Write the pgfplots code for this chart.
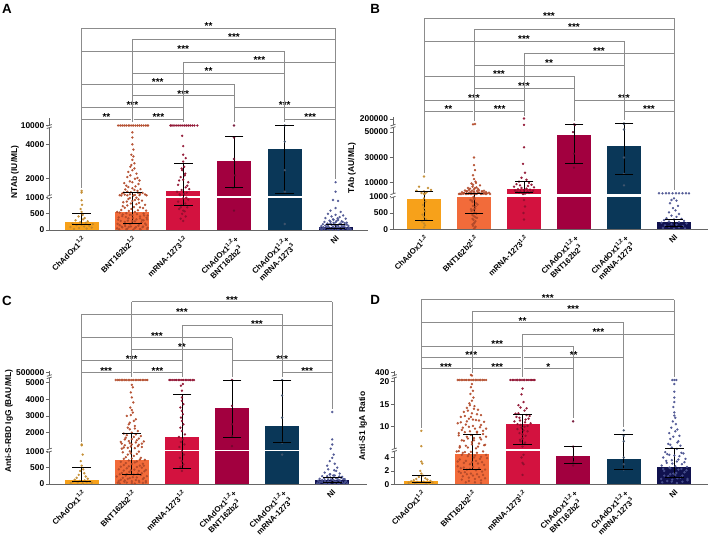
\documentclass[border=0pt]{standalone}
\usepackage{fontspec}
\setmainfont{Liberation Sans}
\usepackage{pgfplots}
\pgfplotsset{compat=1.18}
\definecolor{cA}{HTML}{F7A11A}
\definecolor{cB}{HTML}{F26B3A}
\definecolor{cC}{HTML}{D3123F}
\definecolor{cD}{HTML}{A2003F}
\definecolor{cE}{HTML}{0A3758}
\definecolor{cF}{HTML}{10124F}
\definecolor{pA}{HTML}{C28A2C}
\definecolor{pB}{HTML}{B24A2A}
\definecolor{pC}{HTML}{8E0F2E}
\definecolor{pD}{HTML}{6E0A2E}
\definecolor{pE}{HTML}{44566E}
\definecolor{pF}{HTML}{4A5290}
\definecolor{axcol}{HTML}{666666}
\newcommand{\tfont}{\bfseries\fontsize{6.3}{8}\selectfont}
\newcommand{\xfont}{\bfseries\fontsize{5.9}{7.2}\selectfont}
\newcommand{\sfont}{\bfseries\fontsize{7.5}{8}\selectfont}
\newcommand{\trafo}[1]{\begingroup\pgfkeys{/pgf/fpu=true,/pgf/fpu/output format=fixed}\pgfmathparse{#1}\global\let\mytrafotmp\pgfmathresult\endgroup\let\pgfmathresult\mytrafotmp}
\tikzset{brcol/.style={draw=black!45, line width=0.6pt},
  pts/.style={only marks, mark=*, mark size=0.7pt, color=#1, mark options={fill opacity=0.85, draw opacity=0.85}},
  iqr/.style={black, line width=0.6pt, mark=-, mark size=7pt}}
\pgfplotsset{panel/.style={
  scale only axis, anchor=south west, ymin=0, clip=false,
  axis x line=bottom, axis y line=left,
  axis line style={-, draw=axcol, line width=0.75pt},
  xtick={0,1,2,3,4,5},
  xticklabels={{ChAdOx1\textsuperscript{1,2}},{BNT162b2\textsuperscript{1,2}},{mRNA-1273\textsuperscript{1,2}},{ChAdOx1\textsuperscript{1,2}+\\BNT162b2\textsuperscript{3}},{ChAdOx1\textsuperscript{1,2}+\\mRNA-1273\textsuperscript{3}},{NI}},
  xtick style={draw=none},
  ytick style={draw=axcol, line width=0.6pt},
  tick align=outside, major tick length=2.6pt,
  xticklabel style={rotate=45, anchor=north east, align=center, font=\xfont, inner sep=0pt},
  xticklabel shift=1pt,
  yticklabel style={font=\tfont, inner sep=1pt},
}}
\newcommand{\brk}[4]{\draw[brcol] (#1,#3) -- (#2,#3); \node[anchor=base, inner sep=0pt, font=\sfont] at ({(#1+#2)/2},#3+1.5) {#4};}
\newcommand{\drop}[3]{\draw[brcol] (#1,#2) -- (#1,#3);}
\newcommand{\ybrk}[3]{\fill[white] (#1-1.6,#2+0.3) rectangle (#1+1.6,#3-0.3);
  \draw[axcol, line width=0.6pt] (#1-2.5,#2+1.3) -- (#1+2.5,#2-0.3);
  \draw[axcol, line width=0.6pt] (#1-2.5,#3+0.3) -- (#1+2.5,#3-1.3);}
\begin{document}
\begin{tikzpicture}[x=0.75pt,y=-0.75pt]
\path[use as bounding box] (0,0) rectangle (709,536);
% ================= A =================
\begin{axis}[panel, at={(36.975pt,-172.5pt)}, width=239.0pt, height=84pt,
  xmin=-0.636, xmax=5.638, ymax=20000,
  y coord trafo/.code={\trafo{#1<1000.5 ? #1*0.0323 : (#1<5000.5 ? 34+(#1-1000)*0.0172 : 104.5+(#1-10000)*0.00075)}},
  ytick={0,500,1000,2000,4000,10000}, yticklabels={0,500,1000,2000,4000,10000}]
\addplot[ybar, bar width=25.5pt, bar shift=0pt, fill=cA, draw=none] coordinates {(0,260)};
\addplot[ybar, bar width=25.5pt, bar shift=0pt, fill=cB, draw=none] coordinates {(1,563)};
\addplot[ybar, bar width=25.5pt, bar shift=0pt, fill=cC, draw=none] coordinates {(2,1294)};
\addplot[ybar, bar width=25.5pt, bar shift=0pt, fill=cD, draw=none] coordinates {(3,3040)};
\addplot[ybar, bar width=25.5pt, bar shift=0pt, fill=cE, draw=none] coordinates {(4,3706)};
\addplot[ybar, bar width=25.5pt, bar shift=0pt, fill=cF, draw=none] coordinates {(5,94)};
\fill[white] (rel axis cs:0,0.2884) rectangle (rel axis cs:1,0.3036);
\addplot[pts=pA] coordinates {(-0.15,30) (0.10,45) (-0.05,60) (0.20,75) (-0.22,90) (0.05,110) (0.15,130) (-0.10,150) (0.00,165) (0.22,180) (-0.18,200) (0.08,220) (-0.03,240) (0.12,270) (-0.12,300) (0.03,330) (0.06,370) (-0.06,420) (0.02,470) (0.00,560) (-0.02,650) (0.01,780) (0.00,920) (0.00,1200) (0.00,1300)};
\addplot[pts=pB] coordinates {(0.72,10000) (0.80,10000) (0.88,10000) (0.95,10000) (1.02,10000) (1.10,10000) (1.18,10000) (1.26,10000) (1.31,10000) (0.76,10000) (0.84,10000) (0.92,10000) (0.99,10000) (1.06,10000) (1.14,10000) (1.22,10000) (1.29,10000)
 (0.70,50) (0.80,80) (0.90,40) (1.05,60) (1.20,90) (1.30,70) (0.75,150) (0.95,180) (1.12,130) (1.25,200) (0.85,250) (1.00,280) (1.18,240) (0.72,320) (0.92,360) (1.08,330) (1.28,380) (0.80,430) (1.00,460) (1.15,420) (0.88,520) (1.05,560) (1.22,510) (0.78,620) (0.98,650) (1.15,700) (0.90,760) (1.08,800) (1.25,780) (0.82,860) (1.00,900) (1.12,950) (0.95,990) (0.86,120) (1.15,30) (0.97,110) (1.22,300) (0.70,560) (1.30,450)
 (0.74,20) (0.88,25) (1.02,15) (1.16,22) (1.29,35) (0.79,100) (0.93,95) (1.07,90) (1.21,105) (0.71,190) (0.85,170) (0.99,210) (1.13,185) (1.27,160) (0.77,280) (0.91,290) (1.05,270) (1.19,310) (0.73,390) (0.87,400) (1.01,370) (1.15,360) (1.29,330) (0.81,480) (0.95,470) (1.09,490) (1.23,450) (0.75,540) (0.93,590) (1.11,610) (1.27,600) (0.85,690) (1.03,710) (1.21,680) (0.81,740) (0.97,820) (1.13,840) (0.89,880) (1.05,930) (1.19,910) (0.92,960) (1.08,1000)
 (0.75,1050) (0.85,1080) (0.95,1100) (1.05,1060) (1.15,1120) (1.25,1090) (0.80,1150) (1.20,1180) (0.90,1250) (1.10,1300) (1.00,1450) (0.88,1600) (1.12,1700) (0.95,1850) (1.05,2000) (0.90,2100) (1.08,2300) (1.00,2500) (0.96,2700) (1.04,2900) (1.00,3100) (0.98,3400) (1.02,3700) (1.00,4000) (1.00,4400) (1.00,4700)
 (0.78,1030) (0.90,1040) (1.02,1030) (1.14,1050) (1.28,1040) (0.83,1200) (0.97,1220) (1.11,1190) (0.86,1380) (1.04,1350) (1.16,1400) (0.92,1520) (1.06,1560) (0.84,1750) (1.00,1800) (1.14,1900) (0.96,2200) (1.10,2050) (0.92,2400) (1.04,2600) (0.98,2800) (1.02,3300)};
\addplot[pts=pC] coordinates {(1.75,10000) (1.82,10000) (1.90,10000) (1.98,10000) (2.06,10000) (2.14,10000) (2.22,10000) (2.28,10000) (1.78,10000) (1.86,10000) (1.94,10000) (2.02,10000) (2.10,10000) (2.18,10000)
 (2.00,280) (1.95,350) (2.05,420) (1.98,500) (2.03,580) (1.92,650) (2.08,700) (1.96,760) (2.04,820) (1.90,880) (2.10,940) (2.00,980) (1.93,1100) (2.07,1200) (1.97,1350) (2.05,1500) (1.90,1650) (2.10,1800) (2.00,1950) (1.95,2100) (2.04,2300) (1.98,2500) (2.02,2700) (2.00,3000) (2.00,3400) (2.00,3900) (1.98,4500) (2.06,1000) (1.88,1250) (2.12,1400)
 (1.94,1050) (2.02,1120) (2.08,1600) (1.92,1900) (2.03,2200) (1.97,2600) (2.05,3200) (1.95,700) (2.00,600)};
\addplot[pts=pD] coordinates {(3.00,10000) (3.00,4400) (3.00,3150) (3.02,2200) (2.98,1450) (3.00,600)};
\addplot[pts=pE] coordinates {(4.00,10000) (4.00,4160) (4.00,2500) (4.00,1250) (4.00,185)};
\addplot[pts=pF] coordinates {(5.00,1800) (5.00,1250) (4.95,930) (5.05,900) (5.00,680) (4.90,600) (5.10,560) (4.85,500) (5.00,470) (5.15,450) (4.92,420) (5.08,400) (4.80,370) (5.20,350) (4.95,330) (5.05,310) (4.88,290) (5.12,270) (4.78,250) (5.00,240) (5.22,230) (4.90,210) (5.10,200) (4.75,180) (4.98,170) (5.18,160) (4.85,150) (5.05,140) (5.25,130) (4.72,120) (4.95,110) (5.12,100) (4.82,90) (5.02,80) (5.20,70) (4.70,60) (4.90,55) (5.08,50) (5.28,45) (4.78,40) (5.00,35) (5.15,30) (4.88,25) (5.30,20) (4.72,15) (5.05,12)
 (4.74,30) (4.84,45) (4.94,20) (5.04,55) (5.14,40) (5.24,25) (4.76,85) (4.86,100) (4.96,75) (5.06,95) (5.16,110) (5.26,80) (4.80,140) (4.92,160) (5.02,130) (5.12,150) (5.22,170) (4.84,200) (4.96,220) (5.08,190) (5.18,215) (4.90,260) (5.02,280) (5.14,250) (4.96,320) (5.04,360)};
\addplot[iqr] coordinates {(0,170) (0,500)};
\addplot[iqr] coordinates {(1,210) (1,1200)};
\addplot[iqr] coordinates {(2,750) (2,2923)};
\addplot[iqr] coordinates {(3,1529) (3,4488)};
\addplot[iqr] coordinates {(4,1160) (4,10000)};
\addplot[iqr] coordinates {(5,40) (5,160)};
\end{axis}
% ================= B =================
\begin{axis}[panel, at={(294.75pt,-171.975pt)}, width=236.25pt, height=84.45pt,
  xmin=-0.62, xmax=5.68, ymax=251000,
  y coord trafo/.code={\trafo{#1<1000.5 ? #1*0.0326 : (#1<54000 ? 35+(#1-1000)*0.00127 : 104+(#1-60000)*0.000045)}},
  ytick={0,500,1000,10000,30000,50000,200000}, yticklabels={0,500,1000,10000,30000,50000,200000}]
\addplot[ybar, bar width=25.5pt, bar shift=0pt, fill=cA, draw=none] coordinates {(0,929)};
\addplot[ybar, bar width=25.5pt, bar shift=0pt, fill=cB, draw=none] coordinates {(1,985)};
\addplot[ybar, bar width=25.5pt, bar shift=0pt, fill=cC, draw=none] coordinates {(2,5300)};
\addplot[ybar, bar width=25.5pt, bar shift=0pt, fill=cD, draw=none] coordinates {(3,47500)};
\addplot[ybar, bar width=25.5pt, bar shift=0pt, fill=cE, draw=none] coordinates {(4,39100)};
\addplot[ybar, bar width=25.5pt, bar shift=0pt, fill=cF, draw=none] coordinates {(5,215)};
\fill[white] (rel axis cs:0,0.2895) rectangle (rel axis cs:1,0.3108);
\addplot[pts=pA] coordinates {(0.00,15000) (-0.10,7000) (0.08,6000) (0.14,4500) (-0.15,3800) (0.00,3300) (0.05,2500) (-0.05,2000) (0.02,1500) (0.00,1200) (0.00,950) (0.03,850) (-0.02,750) (0.00,650) (0.02,550) (-0.03,450) (0.00,380) (0.04,300) (-0.04,240) (0.00,180) (0.02,120) (0.00,60)};
\addplot[pts=pB] coordinates {(0.72,1500) (0.80,1800) (0.88,1300) (0.95,2000) (1.02,1600) (1.10,1900) (1.18,1400) (1.26,1700) (1.30,2200) (0.76,2600) (0.85,3000) (0.93,2800) (1.00,3300) (1.08,2500) (1.16,3100) (1.24,2700) (0.70,1200) (1.32,1250) (0.82,4000) (0.90,4500) (1.00,5000) (1.10,4200) (1.20,3800) (0.88,6000) (0.97,7000) (1.05,6500) (1.12,8000) (0.95,9500) (1.03,11000) (1.00,13000) (0.98,16000) (1.02,20000) (1.00,24000) (1.00,30000) (0.98,80000) (1.02,90000)
 (1.00,950) (0.96,880) (1.04,800) (0.98,720) (1.02,640) (0.95,560) (1.05,480) (1.00,400) (0.97,320) (1.03,250) (1.00,180) (0.98,110) (1.02,50) (0.93,900) (1.07,760) (0.94,620) (1.06,350)
 (0.74,1100) (0.84,1150) (0.94,1100) (1.04,1150) (1.14,1100) (1.24,1150) (0.78,1400) (0.90,1550) (0.98,1450) (1.06,1500) (1.14,1600) (1.22,1500) (0.80,2000) (0.90,2200) (1.00,1900) (1.10,2300) (1.20,2000) (0.86,3500) (0.96,3800) (1.06,3600) (1.16,3400) (0.92,5500) (1.02,6000) (1.08,5200) (0.98,8500) (1.04,10000)
 (0.99,990) (1.01,930) (0.97,840) (1.03,700) (0.99,600) (1.01,520) (0.97,440) (1.03,370) (0.99,290) (1.01,210) (0.97,150) (1.03,80) (1.00,20)};
\addplot[pts=pC] coordinates {(2.00,210000) (2.00,70000) (2.00,38000) (1.98,25000) (2.02,18000) (1.95,14000) (2.05,12500) (1.90,11000) (2.10,10000) (1.85,9000) (2.15,8500) (1.92,8000) (2.08,7500) (1.80,7000) (2.20,6500) (1.95,6000) (2.05,5500) (1.88,5000) (2.12,4700) (2.00,4400) (1.82,4000) (2.18,3800) (1.93,3500) (2.07,3200) (1.86,3000) (2.14,2800) (2.00,2600) (1.90,2300) (2.10,2100) (1.97,1900) (2.03,1700) (2.00,1500) (1.98,1200) (2.00,900) (2.02,700) (1.99,500) (2.00,300)};
\addplot[pts=pD] coordinates {(3.00,82000) (3.02,70000) (2.98,50000) (3.00,33000) (3.00,22000)};
\addplot[pts=pE] coordinates {(4.00,100000) (4.00,90000) (4.00,52000) (4.00,30000) (4.00,17000) (4.00,8000)};
\addplot[pts=pF] coordinates {(4.70,1800) (4.77,1750) (4.84,1850) (4.90,1800) (4.97,1780) (5.04,1820) (5.10,1790) (5.17,1830) (5.24,1800) (5.30,1760)
 (5.00,950) (4.95,900) (5.05,880) (4.92,800) (5.08,720) (4.98,650) (5.03,580) (4.90,520) (5.10,470) (4.95,420) (5.05,380) (4.85,340) (5.15,320) (5.00,300) (4.80,280) (5.20,260) (4.90,240) (5.10,220) (4.75,200) (5.25,180) (4.95,160) (5.05,140) (4.82,120) (5.18,100) (4.90,80) (5.10,60) (4.78,40) (5.22,30) (5.00,20)};
\addplot[iqr] coordinates {(0,276) (0,3190)};
\addplot[iqr] coordinates {(1,500) (1,2000)};
\addplot[iqr] coordinates {(2,2700) (2,11500)};
\addplot[iqr] coordinates {(3,25600) (3,80800)};
\addplot[iqr] coordinates {(4,17000) (4,95000)};
\addplot[iqr] coordinates {(5,100) (5,310)};
\end{axis}
% ================= C =================
\begin{axis}[panel, at={(36.975pt,-363pt)}, width=238.3pt, height=84.75pt,
  xmin=-0.647, xmax=5.695, ymax=754000,
  y coord trafo/.code={\trafo{#1<1000.5 ? #1*0.0327 : (#1<5300 ? 34.5+(#1-1000)*0.0168 : 108+(#1-6000)*0.00000668)}},
  ytick={0,500,1000,2000,3000,4000,5000,500000}, yticklabels={0,500,1000,2000,3000,4000,5000,500000}]
\addplot[ybar, bar width=25.5pt, bar shift=0pt, fill=cA, draw=none] coordinates {(0,122)};
\addplot[ybar, bar width=25.5pt, bar shift=0pt, fill=cB, draw=none] coordinates {(1,744)};
\addplot[ybar, bar width=25.5pt, bar shift=0pt, fill=cC, draw=none] coordinates {(2,1737)};
\addplot[ybar, bar width=25.5pt, bar shift=0pt, fill=cD, draw=none] coordinates {(3,3473)};
\addplot[ybar, bar width=25.5pt, bar shift=0pt, fill=cE, draw=none] coordinates {(4,2377)};
\addplot[ybar, bar width=25.5pt, bar shift=0pt, fill=cF, draw=none] coordinates {(5,122)};
\fill[white] (rel axis cs:0,0.2894) rectangle (rel axis cs:1,0.3053);
\addplot[pts=pA] coordinates {(0.00,1300) (0.00,1250) (0.02,900) (-0.02,700) (0.00,560) (0.03,450) (-0.03,400) (0.05,330) (-0.06,280) (0.08,230) (-0.10,190) (0.12,160) (-0.14,130) (0.06,110) (-0.04,95) (0.16,80) (-0.18,70) (0.10,60) (-0.08,50) (0.20,40) (-0.22,30) (0.02,20)};
\addplot[pts=pB] coordinates {(0.68,5137) (0.75,5137) (0.82,5137) (0.89,5137) (0.96,5137) (1.03,5137) (1.10,5137) (1.17,5137) (1.24,5137) (1.31,5137) (0.72,5137) (0.79,5137) (0.86,5137) (0.93,5137) (1.00,5137) (1.07,5137) (1.14,5137) (1.21,5137) (1.28,5137)
 (0.72,40) (0.85,70) (1.00,30) (1.15,60) (1.28,50) (0.78,130) (0.92,160) (1.08,120) (1.22,150) (0.70,230) (0.88,260) (1.02,210) (1.18,280) (1.30,240) (0.80,340) (0.95,370) (1.12,320) (1.25,390) (0.74,450) (0.90,480) (1.05,440) (1.20,500) (0.84,580) (1.00,610) (1.16,560) (0.78,680) (0.94,720) (1.10,690) (1.26,740) (0.88,820) (1.04,860) (1.18,800) (0.98,940) (0.82,970) (1.14,990)
 (0.76,20) (0.90,45) (1.06,15) (1.22,35) (0.74,95) (0.86,110) (1.00,85) (1.14,100) (1.28,90) (0.82,190) (0.96,180) (1.10,200) (1.24,185) (0.76,300) (0.90,310) (1.04,290) (1.20,330) (0.84,410) (0.98,420) (1.14,400) (1.28,430) (0.78,530) (0.94,540) (1.10,520) (1.24,560) (0.88,640) (1.06,660) (1.22,620) (0.84,770) (1.00,780) (1.16,750) (0.92,900) (1.10,920) (0.96,1000)
 (0.80,1050) (0.92,1100) (1.06,1080) (1.20,1150) (0.86,1250) (1.00,1300) (1.14,1280) (0.78,1450) (0.94,1500) (1.10,1550) (1.24,1480) (0.88,1700) (1.04,1750) (1.18,1800) (0.84,1950) (1.00,2000) (1.12,2100) (0.92,2300) (1.06,2400) (0.96,2600) (1.08,2800) (0.90,3000) (1.02,3200) (1.00,3350) (0.97,3500) (1.03,3800) (1.00,4100) (0.98,4400) (1.02,4700) (1.00,4850)
 (0.84,1120) (0.98,1180) (1.12,1200) (0.80,1350) (0.96,1380) (1.08,1420) (1.20,1350) (0.86,1600) (1.00,1620) (1.14,1650) (0.90,1850) (1.08,1900) (0.96,2200) (1.06,2250) (0.94,2500) (1.04,2700) (0.98,3050)};
\addplot[pts=pC] coordinates {(1.75,5137) (1.82,5137) (1.89,5137) (1.96,5137) (2.03,5137) (2.10,5137) (2.17,5137) (2.24,5137) (1.78,5137) (1.86,5137) (1.93,5137) (2.00,5137) (2.07,5137) (2.14,5137) (2.21,5137)
 (2.00,400) (1.97,520) (2.03,600) (2.00,700) (1.96,800) (2.04,900) (2.00,1000) (1.95,1150) (2.05,1300) (1.98,1450) (2.02,1600) (1.94,1750) (2.06,1900) (2.00,2100) (1.97,2300) (2.03,2500) (2.00,2700) (1.98,2900) (2.02,3100) (2.00,3300) (1.97,3500) (2.03,3700) (2.00,3900) (2.00,4100) (2.00,4500) (2.02,4900) (1.98,4800)};
\addplot[pts=pD] coordinates {(3.00,5137) (3.00,3600) (3.00,2500) (3.00,1800) (3.00,1200)};
\addplot[pts=pE] coordinates {(4.00,5137) (4.00,4216) (4.00,2900) (4.00,1400) (4.00,900)};
\addplot[pts=pF] coordinates {(5.00,3233) (5.00,1600) (5.00,1300) (4.97,1050) (5.03,900) (5.00,800) (4.95,700) (5.05,620) (4.90,560) (5.10,500) (4.92,450) (5.08,400) (4.85,350) (5.15,320) (4.95,290) (5.05,260) (4.80,240) (5.20,220) (4.90,200) (5.10,180) (4.75,160) (5.25,150) (4.98,140) (5.02,130) (4.85,120) (5.15,110) (4.72,100) (5.28,90) (4.92,80) (5.08,70) (4.80,60) (5.20,50) (4.95,40) (5.05,30) (4.70,25) (5.30,20) (4.88,15) (5.12,10)
 (4.74,20) (4.84,35) (4.94,15) (5.04,45) (5.14,30) (5.24,20) (4.76,70) (4.86,85) (4.96,60) (5.06,80) (5.16,95) (5.26,65) (4.80,120) (4.92,140) (5.02,115) (5.12,130) (5.22,150) (4.84,180) (4.96,200) (5.08,170) (5.18,190) (4.90,240) (5.02,260) (5.14,230) (4.96,300) (5.04,420)};
\addplot[iqr] coordinates {(0,92) (0,510)};
\addplot[iqr] coordinates {(1,296) (1,1976)};
\addplot[iqr] coordinates {(2,470) (2,4275)};
\addplot[iqr] coordinates {(3,1737) (3,5137)};
\addplot[iqr] coordinates {(4,1400) (4,5137)};
\addplot[iqr] coordinates {(5,40) (5,200)};
\end{axis}
% ================= D =================
\begin{axis}[panel, at={(295.725pt,-363.225pt)}, width=235.3pt, height=84.75pt,
  xmin=-0.534, xmax=5.666, ymax=503,
  y coord trafo/.code={\trafo{#1<5.001 ? #1*6.7 : (#1<21 ? 35+(#1-5)*4.5 : 108.5+(#1-30)*0.0095)}},
  ytick={0,2,4,10,15,20,400}, yticklabels={0,2,4,10,15,20,400}]
\addplot[ybar, bar width=25.5pt, bar shift=0pt, fill=cA, draw=none] coordinates {(0,0.5)};
\addplot[ybar, bar width=25.5pt, bar shift=0pt, fill=cB, draw=none] coordinates {(1,4.5)};
\addplot[ybar, bar width=25.5pt, bar shift=0pt, fill=cC, draw=none] coordinates {(2,10.6)};
\addplot[ybar, bar width=25.5pt, bar shift=0pt, fill=cD, draw=none] coordinates {(3,4.3)};
\addplot[ybar, bar width=25.5pt, bar shift=0pt, fill=cE, draw=none] coordinates {(4,3.75)};
\addplot[ybar, bar width=25.5pt, bar shift=0pt, fill=cF, draw=none] coordinates {(5,2.55)};
\fill[white] (rel axis cs:0,0.2965) rectangle (rel axis cs:1,0.3097);
\addplot[pts=pA] coordinates {(0.00,9.1) (0.00,5.7) (0.00,3.4) (0.02,3.1) (-0.02,2.0) (0.00,1.6) (0.03,1.3) (-0.05,1.1) (0.08,0.9) (-0.10,0.8) (0.12,0.7) (-0.15,0.6) (0.18,0.5) (-0.20,0.45) (0.05,0.4) (-0.08,0.35) (0.22,0.3) (-0.25,0.25) (0.10,0.2) (-0.12,0.15) (0.15,0.1)};
\addplot[pts=pB] coordinates {(0.72,20.4) (0.79,20.4) (0.86,20.4) (0.93,20.4) (1.00,20.4) (1.07,20.4) (1.14,20.4) (1.21,20.4) (1.28,20.4) (0.75,20.4) (0.82,20.4) (0.89,20.4) (0.96,20.4) (1.03,20.4) (1.10,20.4) (1.17,20.4) (1.24,20.4) (1.00,60) (0.98,120)
 (1.00,19.5) (0.98,18.8) (1.02,18.0) (0.97,17.3) (1.03,16.5) (1.00,15.8) (0.95,15.2)
 (1.05,14.6) (0.90,14.2) (1.12,13.8) (0.84,13.3) (1.00,13.0) (1.18,12.6) (0.78,12.2) (0.94,11.8) (1.08,11.5) (1.24,11.1) (0.72,10.8) (0.88,10.5) (1.02,10.2) (1.16,9.9) (1.28,9.6) (0.80,9.3) (0.96,9.0) (1.10,8.7) (1.22,8.4) (0.74,8.1) (0.90,7.8) (1.04,7.5) (1.18,7.2) (0.84,6.9) (1.00,6.6) (1.14,6.3) (1.26,6.0) (0.76,5.7) (0.92,5.4) (1.08,5.2)
 (0.70,4.9) (0.82,4.7) (0.94,4.5) (1.06,4.3) (1.18,4.1) (1.30,3.9) (0.76,3.7) (0.88,3.5) (1.00,3.3) (1.12,3.1) (1.24,2.9) (0.72,2.7) (0.84,2.5) (0.96,2.3) (1.08,2.1) (1.20,1.9) (0.78,1.7) (0.90,1.5) (1.02,1.3) (1.14,1.1) (1.26,0.9) (0.80,0.7) (0.94,0.5) (1.06,0.3) (1.18,0.2)
 (0.74,4.95) (0.86,4.8) (0.98,4.85) (1.10,4.7) (1.22,4.9) (0.80,4.4) (0.92,4.2) (1.04,4.0) (1.16,3.8) (1.28,4.4) (0.72,3.4) (0.84,3.2) (0.96,3.0) (1.08,3.5) (1.20,3.3) (0.78,2.4) (0.90,2.2) (1.02,2.6) (1.14,2.4) (1.26,2.2) (0.74,1.9) (0.86,1.8) (0.98,1.6) (1.10,1.5) (1.22,1.4) (0.82,1.2) (0.94,1.0) (1.06,0.8) (1.18,0.6) (0.88,0.3)
 (0.76,5.4) (0.88,5.8) (1.00,6.1) (1.12,5.6) (1.24,5.9) (0.80,7.0) (0.92,7.4) (1.04,7.0) (1.16,7.6) (1.28,7.8) (0.74,8.6) (0.86,8.8) (0.98,8.2) (1.10,8.9) (1.22,9.1) (0.82,9.8) (0.94,10.0) (1.06,9.6) (1.18,10.4) (0.78,11.0) (0.90,11.2) (1.02,11.6) (1.14,11.4) (0.86,12.4) (0.98,12.2) (1.10,12.8) (0.92,13.6) (1.04,14.0) (0.96,14.8)};
\addplot[pts=pC] coordinates {(1.76,20.4) (1.83,20.4) (1.90,20.4) (1.97,20.4) (2.04,20.4) (2.11,20.4) (2.18,20.4) (2.24,20.4) (1.80,20.4) (1.87,20.4) (1.94,20.4) (2.01,20.4) (2.08,20.4) (2.15,20.4) (2.21,20.4)
 (2.00,18.5) (1.98,17.2) (2.02,15.5) (1.96,14.3) (2.04,13.6) (1.92,13.0) (2.08,12.6) (1.88,12.2) (2.12,11.8) (1.95,11.4) (2.05,11.0) (1.90,10.6) (2.10,10.2) (1.98,9.8) (2.02,9.2) (1.94,8.6) (2.06,8.0) (2.00,7.4) (1.96,6.8) (2.04,6.2) (2.00,5.6) (2.02,4.4) (1.98,4.0) (2.00,3.2) (2.02,3.0) (2.00,1.4)
 (1.92,14.8) (2.08,14.1) (1.86,12.9) (2.14,12.4) (1.94,12.0) (2.06,11.6) (1.84,11.2) (2.16,10.8) (1.96,10.4) (2.04,10.0) (1.90,9.5) (2.10,9.0) (2.00,8.3) (1.95,7.1) (2.05,6.5)};
\addplot[pts=pD] coordinates {(3.00,11.2) (3.00,5.6) (3.00,4.1) (3.00,3.3) (3.00,2.8)};
\addplot[pts=pE] coordinates {(4.00,9.2) (4.00,8.0) (4.00,6.8) (4.00,4.0) (4.00,3.0) (4.00,2.2)};
\addplot[pts=pF] coordinates {(5.00,20.4) (4.96,20.4) (5.04,20.4) (5.00,19.5) (5.00,17.8) (5.00,15.5) (4.98,14.4) (5.00,13.2) (5.02,12.0) (4.97,11.2) (5.03,10.6) (4.94,9.8) (5.06,9.4) (4.90,8.6) (5.10,8.0) (4.92,7.3) (5.08,6.8) (4.88,6.2) (5.12,5.8) (4.95,5.4) (5.05,5.1) (4.82,4.8) (5.18,4.6) (4.90,4.4) (5.10,4.2) (4.78,4.0) (5.22,3.8) (4.95,3.6) (5.05,3.4) (4.85,3.2) (5.15,3.0) (4.75,2.8) (5.25,2.6) (4.92,2.4) (5.08,2.2) (4.80,2.0) (5.20,1.8) (4.98,1.6) (5.02,1.4) (4.88,1.2) (5.12,1.0) (4.74,0.8) (5.26,0.6) (4.95,0.4) (5.05,0.2)
 (4.76,0.3) (4.86,0.5) (4.96,0.7) (5.06,0.9) (5.16,0.4) (5.26,0.8) (4.80,1.3) (4.92,1.5) (5.04,1.7) (5.16,1.3) (4.78,2.3) (4.90,2.5) (5.02,2.7) (5.14,2.3) (5.24,2.1) (4.84,3.5) (4.96,3.1) (5.08,3.7) (5.20,3.3) (4.86,4.5) (5.00,4.3) (5.14,4.7) (4.92,6.0) (5.06,6.5) (4.98,7.8) (5.02,9.0) (5.00,12.5) (5.00,16.5)};
\addplot[iqr] coordinates {(0,0.3) (0,1.3)};
\addplot[iqr] coordinates {(1,2.25) (1,8.4)};
\addplot[iqr] coordinates {(2,6.1) (2,12.8)};
\addplot[iqr] coordinates {(3,3.15) (3,5.6)};
\addplot[iqr] coordinates {(4,2.3) (4,8.3)};
\addplot[iqr] coordinates {(5,1.0) (5,5.1)};
\end{axis}
% ===== axis breaks =====
\ybrk{49.3}{197.7}{196.0}
\ybrk{49.3}{127.2}{125.8}
\ybrk{393}{196.7}{194.3}
\ybrk{393}{127.0}{125.6}
\ybrk{49.3}{451.3}{449.5}
\ybrk{49.3}{377.3}{376.0}
\ybrk{394.3}{450.8}{449.3}
\ybrk{394.3}{377.3}{375.9}
% ===== labels =====
\node[anchor=base west, inner sep=0pt, font=\bfseries\fontsize{10}{12}\selectfont] at (1.8,13.3) {A};
\node[anchor=base west, inner sep=0pt, font=\bfseries\fontsize{10}{12}\selectfont] at (370,13.3) {B};
\node[anchor=base west, inner sep=0pt, font=\bfseries\fontsize{10}{12}\selectfont] at (1.8,305) {C};
\node[anchor=base west, inner sep=0pt, font=\bfseries\fontsize{10}{12}\selectfont] at (370,304) {D};
\node[rotate=90, inner sep=0pt, font=\tfont] at (15,172) {NTAb (IU/ML)};
\node[rotate=90, inner sep=0pt, font=\tfont] at (352,168) {TAb (AU/ML)};
\node[rotate=90, inner sep=0pt, font=\tfont] at (9,421) {Anti-S-RBD IgG (BAU/ML)};
\node[rotate=90, inner sep=0pt, font=\tfont] at (363,426) {Anti-S1 IgA Ratio};
% ===== brackets A =====
\brk{81.6}{335.6}{28.3}{**}
\brk{132.4}{335.6}{39.3}{***}
\brk{81.6}{284.8}{51}{***}
\brk{183.2}{335.6}{62.3}{***}
\brk{132.4}{284.8}{73.3}{**}
\brk{81.6}{234.0}{84.3}{***}
\brk{132.4}{234.0}{95.6}{***}
\brk{81.6}{183.2}{107}{***}
\brk{234.0}{335.6}{107}{***}
\brk{81.6}{131.2}{119}{**}
\brk{133.6}{183.2}{119}{***}
\brk{284.8}{335.6}{119}{***}
\drop{81.6}{28.3}{188}
\drop{132.4}{39.3}{122}
\drop{183.2}{62.3}{122}
\drop{234.0}{84.3}{122}
\drop{284.8}{51}{122}
\drop{335.6}{28.3}{179}
% ===== brackets B =====
\brk{424}{674}{18}{***}
\brk{474}{674}{29.3}{***}
\brk{424}{624}{41}{***}
\brk{524}{674}{53}{***}
\brk{474}{624}{65}{**}
\brk{424}{574}{76.3}{***}
\brk{474}{574}{88}{***}
\brk{424}{524}{100}{***}
\brk{574}{674}{100}{***}
\brk{424}{472.8}{111.3}{**}
\brk{475.2}{524}{111.3}{***}
\brk{624}{674}{111.3}{***}
\drop{424}{18}{173}
\drop{474}{29.3}{121}
\drop{524}{53}{116}
\drop{574}{76.3}{121}
\drop{624}{41}{120}
\drop{674}{18}{190}
% ===== brackets C =====
\brk{131.8}{332.2}{301.8}{***}
\brk{81.7}{282.1}{314.2}{***}
\brk{181.9}{332.2}{325.8}{***}
\brk{81.7}{232.0}{337.5}{***}
\brk{131.8}{232.0}{349.2}{**}
\brk{81.7}{181.9}{360.8}{***}
\brk{232.0}{332.2}{360.8}{***}
\brk{81.7}{130.6}{372.8}{***}
\brk{133.0}{181.9}{372.8}{***}
\brk{282.1}{332.2}{372.8}{***}
\drop{81.7}{314.2}{442}
\drop{131.8}{301.8}{377}
\drop{181.9}{325.8}{377}
\drop{232.0}{337.5}{377}
\drop{282.1}{314.2}{377}
\drop{332.2}{301.8}{409}
% ===== brackets D =====
\brk{421.3}{674.3}{299.7}{***}
\brk{471.9}{674.3}{311}{***}
\brk{421.3}{623.7}{322.7}{**}
\brk{522.5}{674.3}{334}{***}
\brk{421.3}{573.1}{346}{***}
\brk{421.3}{521.3}{357.4}{***}
\brk{523.7}{623.7}{357.4}{**}
\brk{421.3}{470.7}{368.7}{***}
\brk{473.1}{521.3}{368.7}{***}
\brk{523.7}{573.1}{368.7}{*}
\drop{421.3}{299.7}{428}
\drop{471.9}{311}{373}
\drop{522.5}{334}{377}
\drop{573.1}{346}{418}
\drop{623.7}{322.7}{427}
\drop{674.3}{299.7}{377}
\end{tikzpicture}
\end{document}
